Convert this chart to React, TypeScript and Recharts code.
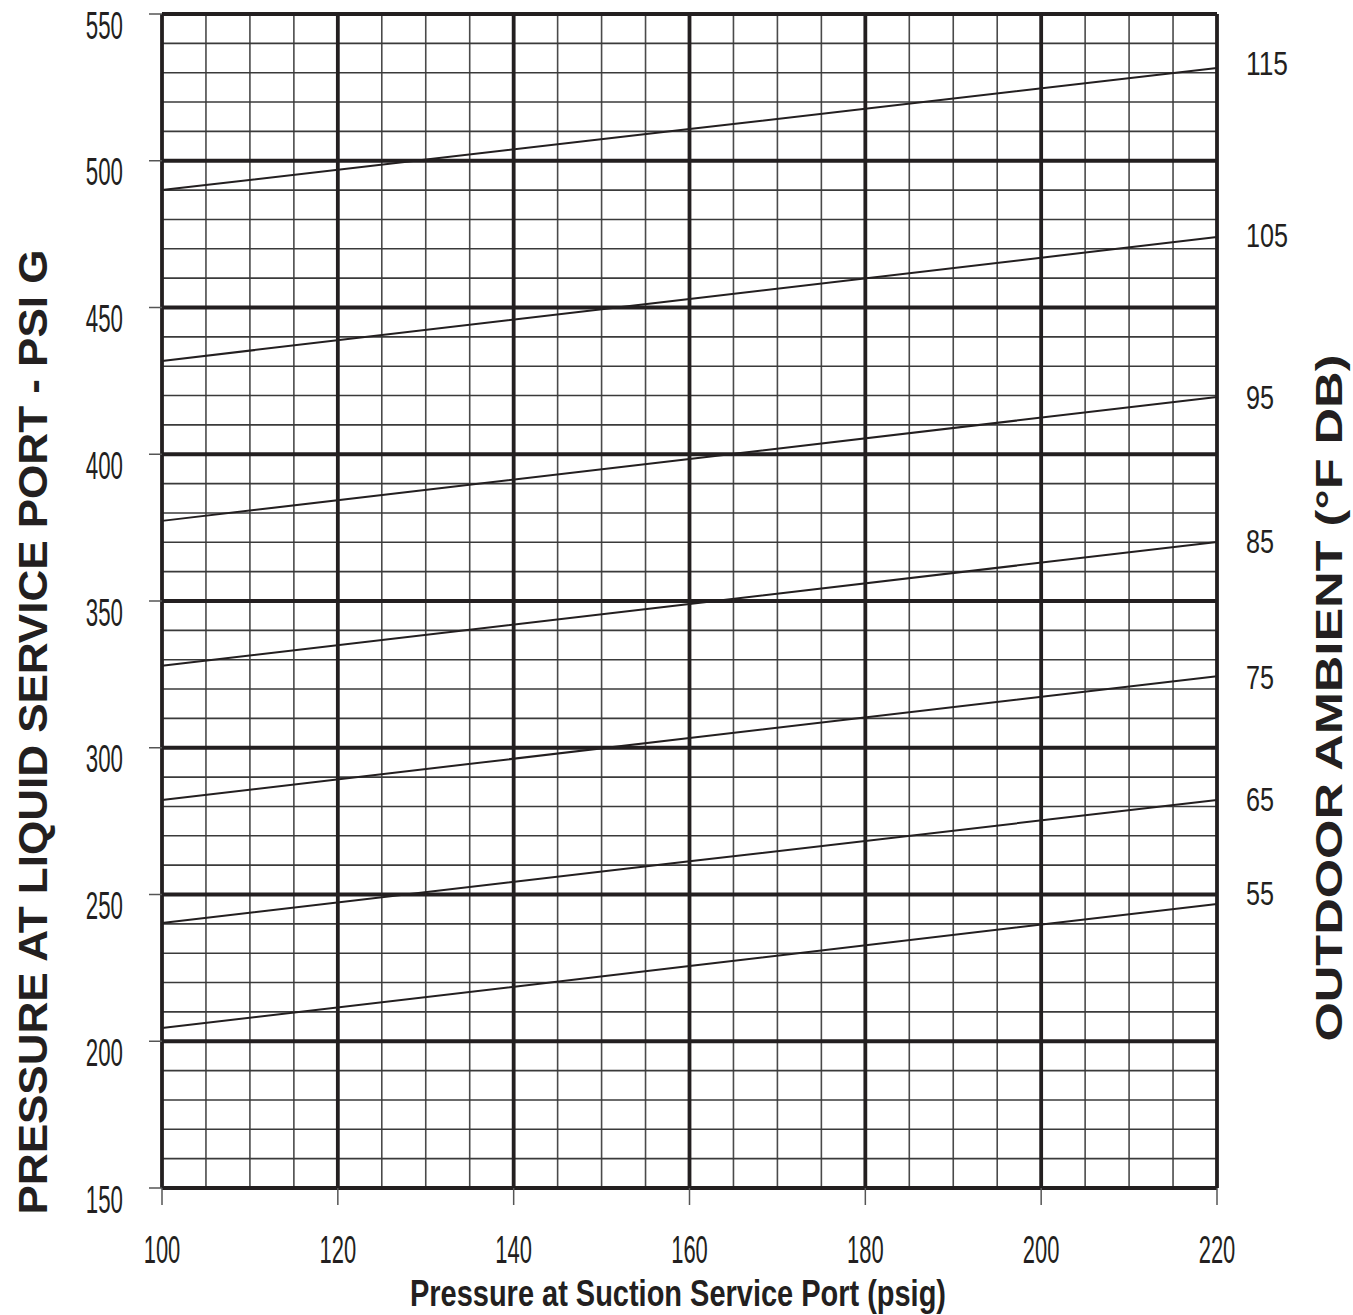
import React from "react"
import {
  LineChart,
  Line,
  XAxis,
  YAxis,
  ReferenceLine,
} from "recharts"

// suction pressure (psig) where each curve is read
const suction = [100, 160, 220]

// liquid pressure (psig) per outdoor ambient curve
const amb115 = [490, 510.8, 531.6]
const amb105 = [431.8, 452.9, 474]
const amb95 = [377.3, 398.4, 419.5]
const amb85 = [327.9, 349, 370.1]
const amb75 = [282.2, 303.3, 324.4]
const amb65 = [240.3, 261.3, 282.2]
const amb55 = [204.5, 225.6, 246.8]

const ambientNames = ["115", "105", "95", "85", "75", "65", "55"]
const ambientSeries = [amb115, amb105, amb95, amb85, amb75, amb65, amb55]
// where the right-hand ambient labels sit, in liquid psig
const ambientLabelAt = [533, 474.4, 419.5, 370.4, 324.1, 282.2, 250.5]

const xTicks = [100, 120, 140, 160, 180, 200, 220]
const yTicks = [150, 200, 250, 300, 350, 400, 450, 500, 550]

const X_MIN = 100
const X_MAX = 220
const Y_MIN = 150
const Y_MAX = 550

const range = (a: number, b: number, step: number) => {
  const out: number[] = []
  for (let v = a; v <= b + 1e-9; v += step) out.push(v)
  return out
}
const xMinor = range(X_MIN, X_MAX, 5).filter(v => !xTicks.includes(v))
const yMinor = range(Y_MIN, Y_MAX, 10).filter(v => !yTicks.includes(v))

const data = suction.map((s, i) => {
  const row: Record<string, number> = { suction: s }
  ambientNames.forEach((n, k) => {
    row["a" + n] = ambientSeries[k][i]
  })
  return row
})

const tickFont = "'Liberation Sans Narrow', 'Liberation Sans', Arial, sans-serif"

const LeftTick = (props: any) => {
  const { x, y, payload } = props
  const s = String(payload.value)
  return (
    <text
      x={x}
      y={y + 11}
      textAnchor="end"
      dominantBaseline="central"
      fontFamily={tickFont}
      fontSize={39}
      fill="#231f20"
      textLength={s.length * 12.4}
      lengthAdjust="spacingAndGlyphs"
    >
      {s}
    </text>
  )
}

const BottomTick = (props: any) => {
  const { x, y, payload } = props
  const s = String(payload.value)
  return (
    <text
      x={x}
      y={y + 44}
      textAnchor="middle"
      dominantBaseline="central"
      fontFamily={tickFont}
      fontSize={39}
      fill="#231f20"
      textLength={s.length * 12.2}
      lengthAdjust="spacingAndGlyphs"
    >
      {s}
    </text>
  )
}

const RightTick = (props: any) => {
  const { y, payload } = props
  const idx = ambientLabelAt.findIndex(v => Math.abs(v - Number(payload?.value)) < 0.01)
  const s = idx >= 0 ? ambientNames[idx] : ""
  if (!s) return null
  return (
    <text
      x={1246}
      y={y}
      textAnchor="start"
      dominantBaseline="central"
      fontFamily={tickFont}
      fontSize={33}
      fill="#231f20"
      textLength={s.length * 14}
      lengthAdjust="spacingAndGlyphs"
    >
      {s}
    </text>
  )
}

export default function App() {
  return (
    <div style={{ position: "absolute", left: 0, top: 0, width: 1353, height: 1315, background: "#fff" }}>
      <LineChart
        width={1353}
        height={1315}
        data={data}
        margin={{ top: 14, right: 0, bottom: 0, left: 0 }}
      >
        <XAxis
          dataKey="suction"
          type="number"
          domain={[X_MIN, X_MAX]}
          ticks={xTicks}
          height={127}
          axisLine={false}
          tickSize={17}
          tickMargin={0}
          tickLine={{ stroke: "#555", strokeWidth: 1.5 }}
          tick={<BottomTick />}
          interval={0}
        />
        <YAxis
          yAxisId="left"
          type="number"
          domain={[Y_MIN, Y_MAX]}
          ticks={yTicks}
          width={162}
          axisLine={false}
          tickSize={13}
          tickMargin={26}
          tickLine={{ stroke: "#555", strokeWidth: 1.5 }}
          tick={<LeftTick />}
          interval={0}
        />
        <YAxis
          yAxisId="right"
          orientation="right"
          type="number"
          domain={[Y_MIN, Y_MAX]}
          ticks={ambientLabelAt}
          width={136}
          axisLine={false}
          tickLine={false}
          tick={<RightTick />}
          interval={0}
        />

        {xMinor.map(v => (
          <ReferenceLine key={"xm" + v} x={v} yAxisId="left" stroke="#4a4a4a" strokeWidth={1.6} />
        ))}
        {yMinor.map(v => (
          <ReferenceLine key={"ym" + v} y={v} yAxisId="left" stroke="#3a3a3a" strokeWidth={1.6} />
        ))}
        {xTicks.map(v => (
          <ReferenceLine key={"xM" + v} x={v} yAxisId="left" stroke="#231f20" strokeWidth={3.8} />
        ))}
        {yTicks.map(v => (
          <ReferenceLine key={"yM" + v} y={v} yAxisId="left" stroke="#231f20" strokeWidth={3.8} />
        ))}

        {ambientNames.map(n => (
          <Line
            key={n}
            yAxisId="left"
            dataKey={"a" + n}
            type="linear"
            stroke="#231f20"
            strokeWidth={2}
            dot={false}
            activeDot={false}
            isAnimationActive={false}
          />
        ))}
        <Line
          yAxisId="right"
          dataKey="a115"
          stroke="none"
          dot={false}
          activeDot={false}
          legendType="none"
          isAnimationActive={false}
        />
      </LineChart>

      <svg
        width={1353}
        height={1315}
        style={{ position: "absolute", left: 0, top: 0, pointerEvents: "none" }}
      >
        <text
          transform="translate(47,732) rotate(-90)"
          textAnchor="middle"
          fontFamily="'Liberation Sans', Arial, sans-serif"
          fontWeight="bold"
          fontSize={40}
          fill="#231f20"
          textLength={965}
          lengthAdjust="spacingAndGlyphs"
        >
          PRESSURE AT LIQUID SERVICE PORT - PSI G
        </text>
        <text
          transform="translate(1342,698) rotate(-90)"
          textAnchor="middle"
          fontFamily="'Liberation Sans', Arial, sans-serif"
          fontWeight="bold"
          fontSize={36}
          fill="#231f20"
          textLength={687}
          lengthAdjust="spacingAndGlyphs"
        >
          OUTDOOR AMBIENT (°F DB)
        </text>
        <text
          x={678}
          y={1306}
          textAnchor="middle"
          fontFamily={tickFont}
          fontWeight="bold"
          fontSize={37}
          fill="#231f20"
          textLength={536}
          lengthAdjust="spacingAndGlyphs"
        >
          Pressure at Suction Service Port (psig)
        </text>
      </svg>
    </div>
  )
}
